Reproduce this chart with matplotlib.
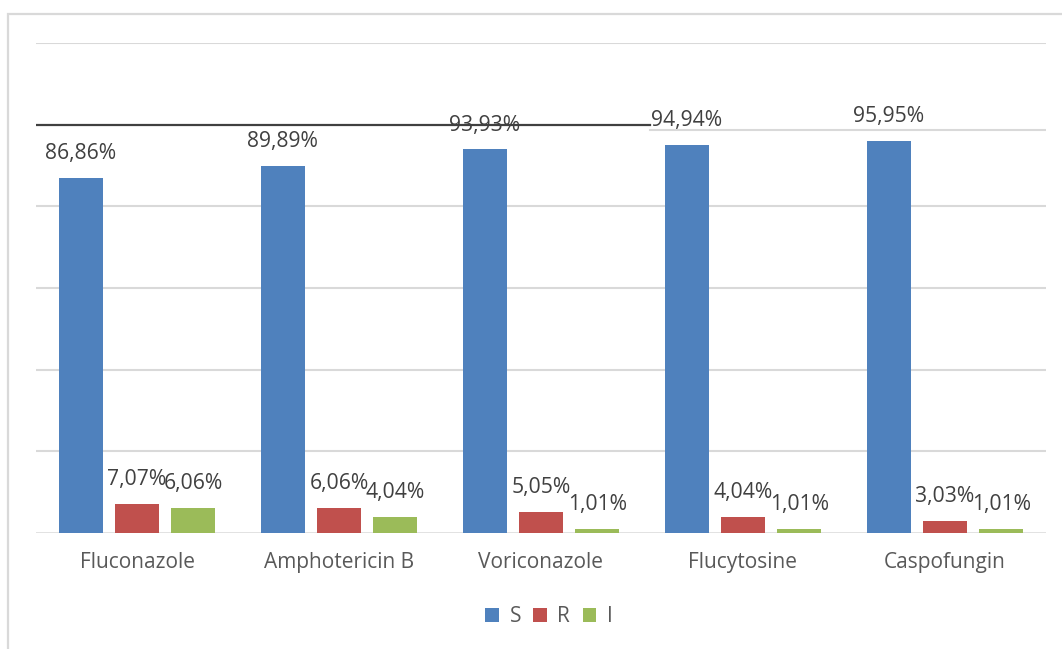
import matplotlib
matplotlib.use("Agg")
import matplotlib.pyplot as plt
from matplotlib.patches import Patch, Rectangle
from matplotlib.transforms import offset_copy
import numpy as np

plt.rcParams['font.family'] = ['Open Sans', 'DejaVu Sans']

# Antifungal susceptibility (%) per drug
drugs = ["Fluconazole", "Amphotericin B", "Voriconazole", "Flucytosine", "Caspofungin"]
series_names = ["S", "R", "I"]
s_values = [86.86, 89.89, 93.93, 94.94, 95.95]
r_values = [7.07, 6.06, 5.05, 4.04, 3.03]
i_values = [6.06, 4.04, 1.01, 1.01, 1.01]
colors = ["#4F81BD", "#C0504D", "#9BBB59"]

fig = plt.figure(figsize=(10.62, 6.49), dpi=100)
ax = fig.add_axes([36 / 1062, 1 - 533 / 649, 1010 / 1062, 490 / 649])

x = np.arange(len(drugs))
bar_w = 0.218
offsets = [-0.278, 0.0, 0.278]
label_trans = offset_copy(ax.transData, fig=fig, x=0, y=10, units='points')

for vals, off, col in zip([s_values, r_values, i_values], offsets, colors):
    ax.bar(x + off, vals, width=bar_w, color=col, zorder=3)
    for xi, v in zip(x + off, vals):
        ax.text(xi, v, f"{v:.2f}%".replace(".", ","), ha='center', va='bottom',
                fontsize=15.2, color='#404040', transform=label_trans, zorder=4)

ax.set_xlim(-0.5, len(drugs) - 0.5)
ax.set_ylim(0, 120)

# Horizontal gridlines
grid_color = '#d9d9d9'
for g in [20, 40, 60, 80, 120]:
    ax.axhline(g, color=grid_color, lw=1.5, zorder=1)
ax.axhline(0, color=grid_color, lw=1.8, zorder=2)
split = 0.6075
ax.axhline(98.7, xmin=split, xmax=1, color=grid_color, lw=1.5, zorder=1)
ax.axhline(100, xmin=0, xmax=split, color='#404040', lw=1.6, zorder=5)

for sp in ax.spines.values():
    sp.set_visible(False)
ax.set_yticks([])
ax.set_xticks(x)
ax.set_xticklabels(drugs, fontsize=15, color='#595959')
ax.tick_params(axis='x', length=0, pad=14)

# Legend
handles = [Patch(facecolor=c, edgecolor='none') for c in colors]
fig.legend(handles, series_names, loc='center', bbox_to_anchor=(549 / 1062, 1 - 617 / 649),
           ncol=3, frameon=False, fontsize=15, handlelength=0.65, handleheight=0.65,
           handletextpad=0.5, columnspacing=0.6, labelcolor='#595959')

# Chart border
fig.patches.append(Rectangle((7.5 / 1062, -0.1), 1.2, (649 - 14) / 649 + 0.1,
                             transform=fig.transFigure, fill=False,
                             edgecolor='#d9d9d9', lw=1.6))

fig.savefig("out.png", dpi=100)
